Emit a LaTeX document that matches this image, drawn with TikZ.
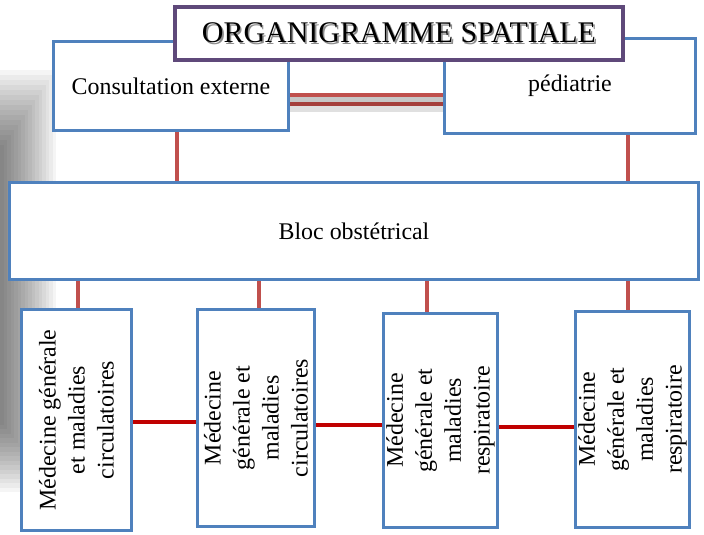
\documentclass[tikz,border=0pt]{standalone}
\usepackage{fontspec}
\setmainfont{Liberation Serif}

\definecolor{boxblue}{HTML}{4F81BD}
\definecolor{titlepurple}{HTML}{5F497A}
\definecolor{linkred}{HTML}{C0504D}
\definecolor{linkdark}{HTML}{A5403D}
\definecolor{wallred}{HTML}{C00000}

\tikzset{
  zone/.style={draw=boxblue, line width=2.4pt, fill=white, inner sep=2pt,
    align=center, font=\fontsize{17}{20.6}\selectfont},
  service/.style={zone, rotate=90},
  vlink/.style={linkred, line width=2.8pt},
  hlink/.style={wallred, line width=2.6pt},
}

% shadowed capitals for the heading
\newcommand{\headline}[1]{\makebox[0pt][l]{\kern1.2pt\raisebox{-1.2pt}{\color{black!45}#1}}#1}

\begin{document}
\begin{tikzpicture}[x=0.025cm,y=-0.025cm]
    \useasboundingbox (0,0) rectangle (704,534);

    % soft grey shade on the left border, built up in thin layers
    \foreach \i in {1,...,16}
        \fill[black, opacity=0.04] (0,150-5*\i) rectangle (3.5*\i,420+4.5*\i);

    % upper services
    \node[zone, minimum width=5.875cm, minimum height=2.225cm] (cons) at (171,86) {Consultation externe};
    \node[zone, minimum width=6.275cm, minimum height=2.375cm] (ped) at (570,86) {pédiatrie};

    \node[zone, minimum width=17.225cm, minimum height=2.425cm] (bloc) at (354,231) {Bloc obstétrical};

    % lower services, text turned upwards
    \node[service, minimum width=5.525cm, minimum height=2.75cm] (m1) at (76.5,420) {Médecine générale\\et maladies\\circulatoires};
    \node[service, minimum width=5.425cm, minimum height=2.925cm] (m2) at (256,418) {Médecine\\générale et\\maladies\\circulatoires};
    \node[service, minimum width=5.35cm, minimum height=2.85cm] (m3) at (440.5,420.5) {Médecine\\générale et\\maladies\\respiratoire};
    \node[service, minimum width=5.4cm, minimum height=2.85cm] (m4) at (632.5,419.5) {Médecine\\générale et\\maladies\\respiratoire};

    % double link between the two upper services
    \draw[black!12, line width=5pt] ([yshift=-0.55cm]cons.east) -- ([yshift=-0.55cm]cons.east -| ped.west);
    \draw[black!22, line width=5pt] ([yshift=-0.34cm]cons.east) -- ([yshift=-0.34cm]cons.east -| ped.west);
    \draw[linkred, line width=2.8pt] ([yshift=-0.225cm]cons.east) -- ([yshift=-0.225cm]cons.east -| ped.west);
    \draw[linkdark, line width=2.8pt] ([yshift=-0.45cm]cons.east) -- ([yshift=-0.45cm]cons.east -| ped.west);

    % links down to the block
    \draw[vlink] ([xshift=0.15cm]cons.south) -- ([xshift=0.15cm]cons.south |- bloc.north);
    \draw[vlink] ([xshift=-0.11cm]ped.south -| m4.east) -- ([xshift=-0.11cm]bloc.north -| m4.east);
    \foreach \m/\dx in {m1/0.04cm, m2/0.075cm, m3/-0.33cm, m4/-0.11cm}
        \draw[vlink] ([xshift=\dx]\m.east) -- ([xshift=\dx]\m.east |- bloc.south);

    % links between neighbouring services
    \foreach \a/\b/\dy in {m1/m2/-0.05cm, m2/m3/-0.175cm, m3/m4/-0.16cm}
        \draw[hlink] ([yshift=\dy]\a.south) -- ([yshift=\dy]\a.south -| \b.north);

    % heading on top
    \node[draw=titlepurple, line width=3pt, fill=white, minimum width=11.2cm, minimum height=1.325cm,
          font=\fontsize{21.3}{25}\selectfont] (title) at (399,33.5) {\headline{ORGANIGRAMME SPATIALE}};
\end{tikzpicture}
\end{document}
